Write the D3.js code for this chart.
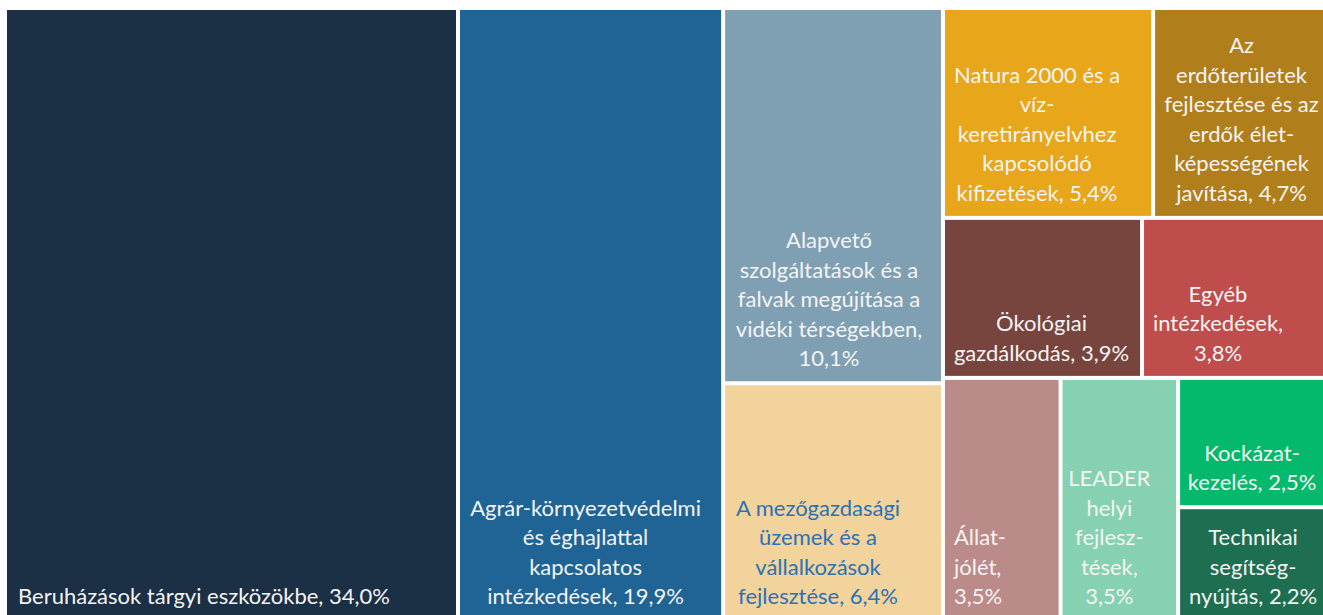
<!DOCTYPE html>
<html><head><meta charset="utf-8">
<script src="https://cdn.jsdelivr.net/npm/d3@7"></script>
<style>html,body{margin:0;padding:0;background:#fff;overflow:hidden}</style>
</head><body><svg id="c" width="1323" height="615"></svg>
<script>
// ---- data ----
const categories = [
  "Beruházások tárgyi eszközökbe",
  "Agrár-környezetvédelmi és éghajlattal kapcsolatos intézkedések",
  "Alapvető szolgáltatások és a falvak megújítása a vidéki térségekben",
  "A mezőgazdasági üzemek és a vállalkozások fejlesztése",
  "Natura 2000 és a víz-keretirányelvhez kapcsolódó kifizetések",
  "Az erdőterületek fejlesztése és az erdők élet-képességének javítása",
  "Ökológiai gazdálkodás",
  "Egyéb intézkedések",
  "Állat-jólét",
  "LEADER helyi fejlesz-tések",
  "Kockázat-kezelés",
  "Technikai segítség-nyújtás"
];
const values = [34.0, 19.9, 10.1, 6.4, 5.4, 4.7, 3.9, 3.8, 3.5, 3.5, 2.5, 2.2];
const valueLabels = ["34,0%", "19,9%", "10,1%", "6,4%", "5,4%", "4,7%", "3,9%", "3,8%", "3,5%", "3,5%", "2,5%", "2,2%"];
// wrapped label lines as shown in the chart
const labelLines = [
  ["Beruházások tárgyi eszközökbe, 34,0%"],
  ["Agrár-környezetvédelmi", "és éghajlattal", "kapcsolatos", "intézkedések, 19,9%"],
  ["Alapvető", "szolgáltatások és a", "falvak megújítása a", "vidéki térségekben,", "10,1%"],
  ["A mezőgazdasági", "üzemek és a", "vállalkozások", "fejlesztése, 6,4%"],
  ["Natura 2000 és a", "víz-", "keretirányelvhez", "kapcsolódó", "kifizetések, 5,4%"],
  ["Az", "erdőterületek", "fejlesztése és az", "erdők élet-", "képességének", "javítása, 4,7%"],
  ["Ökológiai", "gazdálkodás, 3,9%"],
  ["Egyéb", "intézkedések,", "3,8%"],
  ["Állat-", "jólét,", "3,5%"],
  ["LEADER", "helyi", "fejlesz-", "tések,", "3,5%"],
  ["Kockázat-", "kezelés, 2,5%"],
  ["Technikai", "segítség-", "nyújtás, 2,2%"]
];
// tile grouping (indices into the arrays above)
const tiling = [0, 1, [2, 3], [[4, 5], [6, 7], [8, 9, [10, 11]]]];

// ---- styles ----
const colors = ["#1b2f45", "#1f6495", "#7f9fb3", "#f1d39b", "#e8a71a", "#b07f1c",
                "#77453e", "#be4d4b", "#bb8b8a", "#86d1b1", "#04b96b", "#1e6f51"];
const textColors = colors.map((c, i) => i === 3 ? "#2a72b8" : "#f4f4f4");
const labelAnchor = ["start", "middle", "middle", "middle", "middle", "middle",
                     "middle", "middle", "start", "middle", "middle", "middle"];
const labelDx = [11, -5, -4, -15, -11, -3, -1, -21, 9, -10, -5, -4];

const W = 1327, H = 609, X0 = 7, Y0 = 10;
const fontSize = 22, lineH = 29.5, bottomPad = 15;

function build(node) {
  if (Array.isArray(node)) return {children: node.map(build)};
  return {idx: node, name: categories[node], value: values[node]};
}
const root = d3.hierarchy(build(tiling)).sum(d => d.value || 0);
d3.treemap().size([W, H]).paddingInner(4).paddingOuter(0).round(false)
  .tile(d3.treemapSliceDice)(root);

const svg = d3.select("#c");
const g = svg.append("g").attr("transform", `translate(${X0},${Y0})`);
const leaves = g.selectAll("g.leaf").data(root.leaves()).join("g").attr("class", "leaf");
leaves.append("rect")
  .attr("x", d => d.x0).attr("y", d => d.y0)
  .attr("width", d => d.x1 - d.x0).attr("height", d => d.y1 - d.y0)
  .attr("fill", d => colors[d.data.idx]);
leaves.append("text")
  .attr("font-family", "Lato, 'Open Sans', sans-serif")
  .attr("font-size", fontSize)
  .attr("fill", d => textColors[d.data.idx])
  .attr("text-anchor", d => labelAnchor[d.data.idx])
  .each(function(d) {
    const i = d.data.idx, lines = labelLines[i];
    const x = labelAnchor[i] === "start" ? d.x0 + labelDx[i] : (d.x0 + d.x1) / 2 + labelDx[i];
    const yLast = Math.min(d.y1, H) - bottomPad;
    d3.select(this).selectAll("tspan").data(lines).join("tspan")
      .attr("x", x)
      .attr("y", (l, k) => yLast - (lines.length - 1 - k) * lineH)
      .text(l => l);
  });
</script>
</body></html>
